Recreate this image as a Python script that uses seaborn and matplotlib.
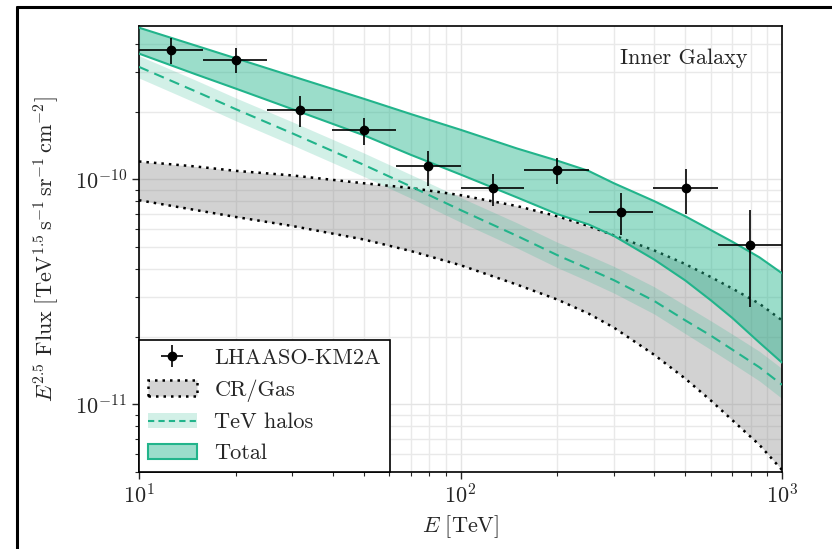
import numpy as np
import pandas as pd
import matplotlib
matplotlib.use("Agg")
from matplotlib import pyplot as plt
from matplotlib.patches import Patch
from matplotlib.lines import Line2D
import seaborn as sns

# LHAASO-KM2A points (flux in units of 1e-10)
e_pts = [12.6, 20.0, 31.6, 50.1, 79.4, 126, 200, 316, 501, 794]
e_lo = [10.0, 15.8, 25.1, 39.8, 63.1, 100, 158, 251, 398, 631]
e_hi = [15.8, 25.1, 39.8, 63.1, 100, 158, 251, 398, 631, 1000]
f_pts = [3.74, 3.40, 2.03, 1.65, 1.14, 0.91, 1.10, 0.714, 0.915, 0.509]
f_up = [4.23, 3.83, 2.34, 1.88, 1.34, 1.06, 1.24, 0.87, 1.11, 0.73]
f_dn = [3.25, 2.98, 1.71, 1.42, 0.93, 0.76, 0.95, 0.564, 0.704, 0.271]

# model curves (flux in units of 1e-10)
e_grid = [10, 15, 20, 30, 50, 70, 100, 150, 200, 250, 300, 400, 500, 600, 700, 850, 1000]
cr_up = [1.20, 1.14, 1.09, 1.04, 0.96, 0.915, 0.85, 0.76, 0.685, 0.62, 0.563, 0.483,
         0.42, 0.368, 0.327, 0.28, 0.236]
cr_dn = [0.807, 0.73, 0.68, 0.62, 0.54, 0.48, 0.415, 0.34, 0.292, 0.253, 0.219, 0.166,
         0.130, 0.104, 0.085, 0.066, 0.051]
halo_mid = [3.16, 2.46, 2.05, 1.60, 1.16, 0.93, 0.73, 0.56, 0.46, 0.40, 0.356, 0.288,
            0.236, 0.202, 0.175, 0.146, 0.122]
halo_up = [3.54, 2.76, 2.30, 1.80, 1.31, 1.05, 0.83, 0.64, 0.525, 0.46, 0.41, 0.333,
           0.275, 0.235, 0.205, 0.172, 0.144]
halo_dn = [2.82, 2.19, 1.82, 1.42, 1.03, 0.825, 0.645, 0.495, 0.405, 0.352, 0.312, 0.252,
           0.206, 0.175, 0.152, 0.127, 0.106]
tot_up = [4.72, 3.93, 3.45, 2.87, 2.28, 1.95, 1.66, 1.37, 1.21, 1.09, 0.96, 0.80,
          0.685, 0.595, 0.528, 0.45, 0.382]
tot_dn = [3.62, 2.93, 2.53, 2.05, 1.57, 1.285, 1.05, 0.83, 0.70, 0.63, 0.56, 0.44,
          0.355, 0.29, 0.242, 0.188, 0.153]

scale = 1e-10
df = pd.DataFrame({"E": e_grid,
                   "halo": np.array(halo_mid) * scale})

sns.set_theme(style="ticks")
plt.rcParams["font.family"] = "serif"
plt.rcParams["font.serif"] = ["cmr10", "DejaVu Serif"]
plt.rcParams["mathtext.fontset"] = "cm"
plt.rcParams["axes.formatter.use_mathtext"] = True
plt.rcParams["font.size"] = 16
plt.rcParams["axes.unicode_minus"] = False

green = "#22b48b"

fig = plt.figure(figsize=(8.32, 5.49), dpi=100)
ax = fig.add_axes([0.167, 0.1403, 0.773, 0.8123])

E = np.array(e_grid)
ax.fill_between(E, np.array(cr_dn) * scale, np.array(cr_up) * scale,
                color="gray", alpha=0.35, lw=0, zorder=2)
ax.plot(E, np.array(cr_up) * scale, color="black", ls=(0, (1, 2)), lw=1.8, zorder=3)
ax.plot(E, np.array(cr_dn) * scale, color="black", ls=(0, (1, 2)), lw=1.8, zorder=3)

ax.fill_between(E, np.array(halo_dn) * scale, np.array(halo_up) * scale,
                color=green, alpha=0.2, lw=0, zorder=2)
sns.lineplot(data=df, x="E", y="halo", ax=ax, color=green, ls=(0, (5, 3)),
             lw=1.5, zorder=4)

ax.fill_between(E, np.array(tot_dn) * scale, np.array(tot_up) * scale,
                color=green, alpha=0.45, lw=0, zorder=3)
ax.plot(E, np.array(tot_up) * scale, color=green, lw=1.5, zorder=4)
ax.plot(E, np.array(tot_dn) * scale, color=green, lw=1.5, zorder=4)

x = np.array(e_pts)
y = np.array(f_pts) * scale
xerr = [x - np.array(e_lo), np.array(e_hi) - x]
yerr = [y - np.array(f_dn) * scale, np.array(f_up) * scale - y]
h_data = ax.errorbar(x, y, xerr=xerr, yerr=yerr, fmt="o", color="black", ms=6,
                     elinewidth=1.2, capsize=0, zorder=6)

ax.set_xscale("log")
ax.set_yscale("log")
ax.set_xlim(10, 1000)
ax.set_ylim(5e-12, 4.8e-10)
ax.set_yticks([1e-11, 1e-10])
ax.grid(True, which="major", color="#e4e4e4", lw=1.0, zorder=0)
ax.grid(True, which="minor", color="#e9e9e9", lw=1.0, zorder=0)
ax.set_axisbelow(True)
for sp in ax.spines.values():
    sp.set_linewidth(1.2)
    sp.set_color("black")
ax.tick_params(which="major", direction="out", length=5, width=1.0, labelsize=16)
ax.tick_params(which="minor", direction="out", length=3, width=0.8)

ax.set_xlabel(r"$E\ [\mathrm{TeV}]$", fontsize=16)
ax.set_ylabel(r"$E^{2.5}\ \mathrm{Flux}\ [\mathrm{TeV}^{1.5}\,\mathrm{s}^{-1}\,"
              r"\mathrm{sr}^{-1}\,\mathrm{cm}^{-2}]$", fontsize=16, labelpad=10)
ax.text(0.947, 0.928, "Inner Galaxy", transform=ax.transAxes, ha="right",
        va="center", fontsize=16)

h_cr = Patch(facecolor="#d3d3d3", edgecolor="black", ls=(0, (1, 2)), lw=1.8)
h_halo = (Patch(facecolor=green, alpha=0.2, lw=0),
          Line2D([], [], color=green, ls=(0, (3, 2)), lw=1.5))
h_tot = Patch(facecolor=(0.13, 0.71, 0.55, 0.45), edgecolor=green, lw=1.5)
leg = ax.legend([h_data, h_cr, h_halo, h_tot],
                ["LHAASO-KM2A", "CR/Gas", "TeV halos", "Total"],
                loc="lower left", borderaxespad=0, fancybox=False,
                framealpha=1, edgecolor="black", fontsize=16,
                handlelength=2.2, labelspacing=0.5)
leg.get_frame().set_linewidth(1.2)
leg.set_zorder(10)

# outer frame of the figure (left and top edges visible)
fig.add_artist(Line2D([0.0205, 0.0205], [0.0, 0.987], color="black", lw=2.2,
                      transform=fig.transFigure))
fig.add_artist(Line2D([0.0205, 1.0], [0.987, 0.987], color="black", lw=2.2,
                      transform=fig.transFigure))

fig.savefig("out.png", dpi=100)
